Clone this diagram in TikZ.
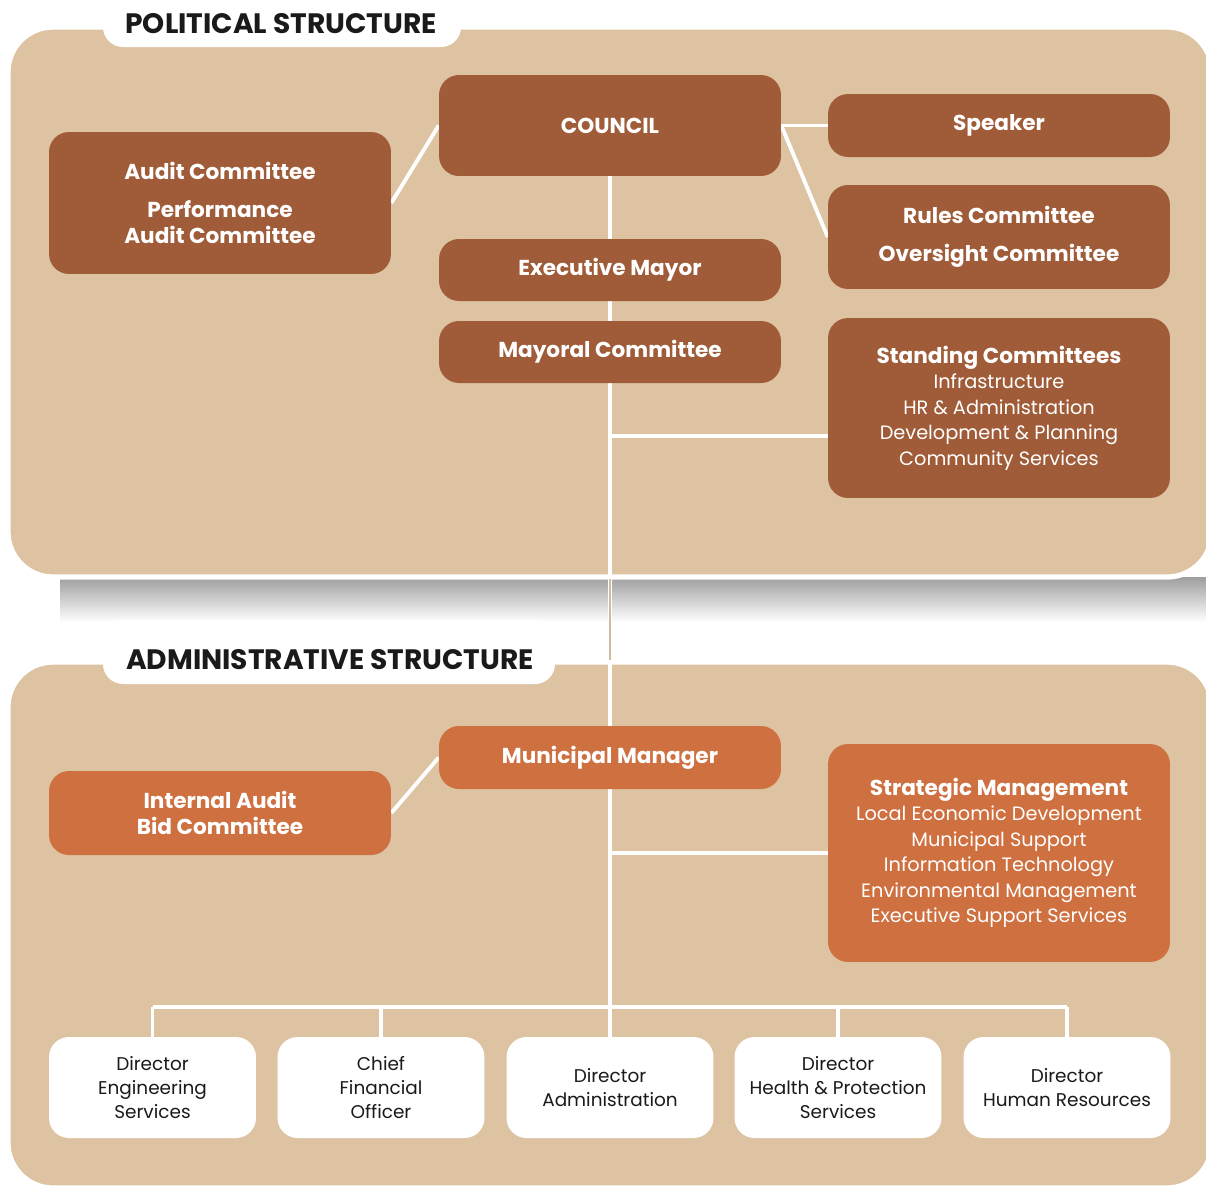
\documentclass[tikz,border=0pt]{standalone}
\usepackage{fontspec}
\setmainfont{Poppins}
\usetikzlibrary{backgrounds}
\definecolor{panel}{HTML}{DDC3A2}
\definecolor{polbox}{HTML}{A05C38}
\definecolor{admbox}{HTML}{CF7040}
\definecolor{ink}{HTML}{1A1A1A}
\definecolor{gapline}{HTML}{CDBBA6}
\pgfdeclarelayer{lines}
\pgfsetlayers{background,lines,main}
\newcommand{\boxhead}[1]{{\fontsize{12.3}{14.5}\bfseries\selectfont #1}}
\tikzset{
  orgbox/.style={rectangle, rounded corners=0.4cm, align=center, text=white, font=\fontsize{11}{14.5}\selectfont, inner sep=0pt},
  pol/.style={orgbox, fill=polbox, minimum width=6.84cm},
  adm/.style={orgbox, fill=admbox, minimum width=6.84cm},
  dir/.style={orgbox, fill=white, text=ink, minimum width=4.14cm, minimum height=2.02cm, font=\fontsize{10.5}{13.6}\selectfont},
  link/.style={white, line width=2.2pt},
  tab/.style={fill=white, rounded corners=0.4cm},
  heading/.style={text=ink, font=\fontsize{16}{18}\bfseries\selectfont}
}
\begin{document}
\begin{tikzpicture}[x=0.02cm, y=-0.02cm]
    \useasboundingbox (0,0) rectangle (1206,1191);
    \clip (0,0) rectangle (1206,1191);

    % panels
    \begin{pgfonlayer}{background}
    \shade[top color=black!38, bottom color=white] (60,577) rectangle (1206,622);
    \fill[panel, draw=white, line width=3pt, rounded corners=0.9cm] (8,27) rectangle (1212,577);
    \fill[tab] (103,-20) rectangle (461,47);
    \fill[panel, draw=white, line width=3pt, rounded corners=0.9cm] (8,662) rectangle (1212,1188);
    \fill[tab] (103,620) rectangle (555,684);
    \end{pgfonlayer}
    \node[heading] (poltitle) at (281,24) {POLITICAL STRUCTURE};
    \node[heading] (admtitle) at (330,660) {ADMINISTRATIVE STRUCTURE};

    % political structure
    \node[pol, minimum height=2.02cm] (council) at (610,125.5) {\boxhead{COUNCIL}};
    \node[pol, minimum height=1.26cm] (speaker) at (999,125.5) {\boxhead{Speaker}};
    \node[pol, minimum height=2.08cm] (rules) at (999,237) {\boxhead{Rules Committee}\\[7pt]\boxhead{Oversight Committee}};
    \node[pol, minimum height=2.84cm] (audit) at (220,203) {\boxhead{Audit Committee}\\[7pt]\boxhead{Performance}\\\boxhead{Audit Committee}};
    \node[pol, minimum height=1.24cm] (exmayor) at (610,270) {\boxhead{Executive Mayor}};
    \node[pol, minimum height=1.24cm] (mayoral) at (610,352) {\boxhead{Mayoral Committee}};
    \node[pol, minimum height=3.6cm] (standing) at (999,408) {\boxhead{Standing Committees}\\Infrastructure\\HR \& Administration\\Development \& Planning\\Community Services};

    % administrative structure
    \node[adm, minimum height=1.26cm] (mm) at (610,757.5) {\boxhead{Municipal Manager}};
    \node[adm, minimum height=1.68cm] (intaudit) at (220,813) {\boxhead{Internal Audit}\\\boxhead{Bid Committee}};
    \node[adm, minimum height=4.36cm] (strategic) at (999,853) {\boxhead{Strategic Management}\\Local Economic Development\\Municipal Support\\Information Technology\\Environmental Management\\Executive Support Services};

    \node[dir] (dirEng) at (152.5,1087.5) {Director\\Engineering\\Services};
    \node[dir] (cfo) at (381,1087.5) {Chief\\Financial\\Officer};
    \node[dir] (dirAdmin) at (610,1087.5) {Director\\Administration};
    \node[dir] (dirHealth) at (838,1087.5) {Director\\Health \& Protection\\Services};
    \node[dir] (dirHR) at (1067,1087.5) {Director\\Human Resources};

    \coordinate (sbranch) at (610,436);
    \coordinate (bus) at (610,1007);

    \begin{pgfonlayer}{lines}
    \draw[link] (council.south) -- (mm.north);
    \draw[gapline, line width=1.4pt] (610,579) -- (610,660);
    \draw[link] (council.west) -- (audit.east);
    \draw[link] (council.east) -- (speaker.west);
    \draw[link] (council.east) -- (rules.west);
    \draw[link] (sbranch) -- (sbranch -| standing.west);
    \draw[link] (mm.west) -- (intaudit.east);
    \draw[link] (mm.south) -- (dirAdmin.north);
    \draw[link] (mm.south |- strategic.west) -- (strategic.west);
    \draw[link] (dirEng.north |- bus) -- (dirHR.north |- bus);
    \foreach \d in {dirEng, cfo, dirHealth, dirHR}
        \draw[link] (\d.north |- bus) -- (\d.north);
    \end{pgfonlayer}
\end{tikzpicture}
\end{document}
